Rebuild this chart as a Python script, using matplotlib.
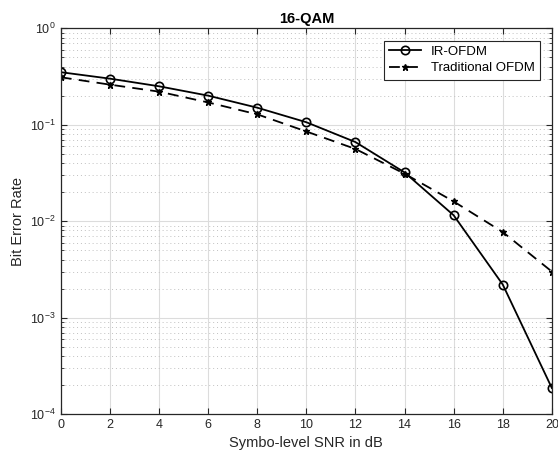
import numpy as np
import matplotlib
matplotlib.use("Agg")
import matplotlib.pyplot as plt
from matplotlib.ticker import LogLocator, NullFormatter

plt.rcParams['font.family'] = ['Liberation Sans', 'DejaVu Sans']

# data
snr = [0, 2, 4, 6, 8, 10, 12, 14, 16, 18, 20]
ber_ir = [0.35, 0.30, 0.25, 0.20, 0.15, 0.106, 0.066, 0.032, 0.0115, 0.0022, 0.000186]
ber_trad = [0.31, 0.26, 0.22, 0.17, 0.128, 0.085, 0.056, 0.031, 0.016, 0.0077, 0.0030]
xticks = [0, 2, 4, 6, 8, 10, 12, 14, 16, 18, 20]

fig = plt.figure(figsize=(5.58, 4.55), dpi=100)
ax = fig.add_axes([0.109, 0.090, 0.880, 0.848])

ax.semilogy(snr, ber_ir, '-', color='black', lw=1.3, marker='o', ms=6,
            mfc='none', mew=1.2, label='IR-OFDM')
ax.semilogy(snr, ber_trad, '--', color='black', lw=1.3, marker='*', ms=5,
            mew=1.0, label='Traditional OFDM', dashes=(6, 4))

ax.set_xlim(0, 20)
ax.set_ylim(1e-4, 1)
ax.set_xticks(xticks)
ax.yaxis.set_major_locator(LogLocator(base=10, numticks=10))
ax.yaxis.set_minor_locator(LogLocator(base=10, subs=np.arange(2, 10), numticks=50))
ax.yaxis.set_minor_formatter(NullFormatter())

ax.grid(True, which='major', color='#dcdcdc', lw=0.8, ls='-')
ax.grid(True, which='minor', axis='y', color='#c0c0c0', lw=0.7, ls=(0, (1, 3)))
ax.set_axisbelow(True)

ax.tick_params(which='both', direction='in', top=True, right=True, labelsize=9,
               colors='#262626', labelcolor='#262626')
ax.tick_params(which='major', length=4)
ax.tick_params(which='minor', length=2.5)
for s in ax.spines.values():
    s.set_color('#262626')
    s.set_linewidth(0.9)

ax.set_xlabel('Symbo-level SNR in dB', fontsize=10.5, color='#262626')
ax.set_ylabel('Bit Error Rate', fontsize=10.5, color='#262626')
ax.set_title('16-QAM', fontsize=10.5, fontweight='bold', pad=4)

leg = ax.legend(loc='upper right', fontsize=9.5, fancybox=False, framealpha=1,
                edgecolor='#262626', handlelength=2.4, borderpad=0.4,
                labelspacing=0.3, bbox_to_anchor=(0.99, 0.985))
leg.get_frame().set_linewidth(0.8)

fig.savefig('out.png', dpi=100)
